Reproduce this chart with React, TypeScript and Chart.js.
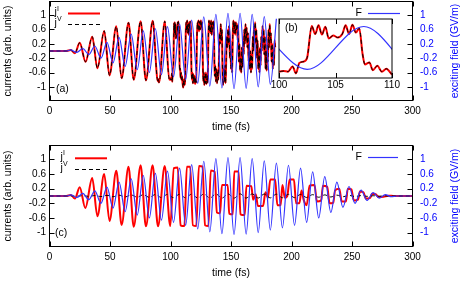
import React, { useEffect, useRef } from "react";
import { Chart, registerables } from "chart.js";
Chart.register(...registerables);

const FONT = '"Liberation Sans", Arial, Helvetica, sans-serif';
const RED = "#ff0000";
const BLUE = "#3333ff";
const BLACK = "#000000";

// ---- axis ticks & texts ----
const xTickValues = [0, 50, 100, 150, 200, 250, 300];
const yTickValues = [-1, -0.6, -0.2, 0.2, 0.6, 1];
const insetTickValues = [100, 105, 110];
const xTitle = "time (fs)";
const yTitle = "currents (arb. units)";
const y2Title = "exciting field (GV/m)";

// ---- exciting field F (extrema), same pulse in (a) and (c) ----
const fT = [0, 14, 17.5, 22.5, 27.5, 32.5, 37.5, 42.5, 47.5, 52.5, 57.5, 62.5, 67.5, 72.5, 77.5, 82.5, 87.5, 92.5, 97.5, 102.5,
  107.5, 112.5, 117.5, 122.5, 127.5, 132.5, 137.5, 142.5, 147.5, 152.5, 157.5, 162.5, 167.5, 172.5, 177.5, 182.5, 187.5,
  192.5, 197.5, 202.5, 207.5, 212.5, 217.5, 222.5, 227.5, 232.5, 237.5, 242.5, 247.5, 252.5, 257.5, 262.5, 267.5, 272.5,
  277.5, 282.5, 287, 300];
const fV = [0, 0, 0.03, -0.04, 0.07, -0.1, 0.14, -0.2, 0.24, -0.33, 0.38, -0.43, 0.47, -0.52, 0.56, -0.6, 0.62, -0.66, 0.68, -0.72,
  0.76, -0.8, 0.86, -0.9, 0.95, -0.98, 1.02, -1.03, 1.05, -1.05, 1.05, -1.04, 1.02, -1.0, 0.96, -0.93, 0.9,
  -0.87, 0.84, -0.8, 0.76, -0.72, 0.66, -0.6, 0.53, -0.45, 0.38, -0.31, 0.26, -0.2, 0.16, -0.12, 0.09, -0.06,
  0.04, -0.02, 0, 0];
const fEndA = 188; // field trace in (a) stops here

// ---- panel (a): current j^I (j^V coincides with it) ----
const jIaT = [0, 14, 17.5, 21, 25, 29.8, 35.3, 39.6, 45.2, 49.6, 55.2, 59.6, 65.3, 69.6, 75.3, 79.7, 85.3, 89.5, 90.0, 90.5,
  95.3, 99.0, 99.5, 100.0, 100.4, 100.8, 101.2, 101.5, 101.8, 102.2, 102.5, 102.9, 103.2, 103.5, 103.8, 104.1, 104.4,
  104.8, 105.2, 105.6, 105.9, 106.2, 106.5, 106.8, 107.1, 107.4, 107.6, 108.0, 108.3, 108.7, 109.1, 109.5, 110.0,
  110.5, 111.0, 111.6, 112.2, 112.6, 113.0, 113.4, 113.8, 114.2, 114.6, 115.0, 115.4, 115.8, 116.3, 116.8, 117.3, 117.7,
  118.1, 118.5, 118.9, 119.3, 119.8, 120.3, 120.8, 121.3, 121.8, 122.3, 122.7, 123.1, 123.6, 124.1, 124.6, 125.1, 125.6,
  126.2, 126.7, 127.1, 127.5, 127.9, 128.3, 128.8, 129.2, 129.7, 130.2, 130.7, 131.3, 131.8, 132.2, 132.7, 133.1, 133.6,
  134.1, 134.6, 135.1, 135.6, 136.1, 136.5, 137.0, 137.5, 138.0, 138.5, 139.0, 139.5, 140.0, 140.5, 141.0, 141.5, 142.0,
  142.5, 143.0, 143.5, 144.0, 144.5, 145.0, 145.5, 146.0, 146.5, 147.0, 147.5, 148.0, 148.5, 149.0, 149.5, 150.0, 150.5,
  151.0, 151.5, 152.0, 152.5, 153.0, 153.5, 154.0, 154.5, 155.0, 155.5, 156.0, 156.5, 157.0, 157.5, 158.0, 158.5, 159.0,
  159.5, 160.0, 160.5, 161.0, 161.5, 162.0, 162.5, 163.0, 163.5, 164.0, 164.5, 165.0, 165.5, 166.0, 166.5, 167.0, 167.5,
  168.0, 168.5, 169.0, 169.5, 170.0, 170.5, 171.0, 171.5, 172.0, 172.5, 173.0, 173.5, 174.0, 174.5, 175.0, 175.5, 176.0,
  176.5, 177.0, 177.5, 178.0, 178.5, 179.0, 179.5, 180.0, 180.5, 181.0, 181.5, 182.0, 182.5, 183.0, 183.5, 184.0, 184.5,
  185.0, 185.5, 186.0, 186.5];
const jIaV = [0, 0, 0.03, -0.06, 0.23, -0.3, 0.4, -0.48, 0.56, -0.68, 0.69, -0.76, 0.79, -0.8, 0.83, -0.82, 0.84, -0.84, -0.78, -0.88,
  0.83, -0.8, -0.75, -0.8, -0.78, -0.8, -0.62, -0.86, -0.5, -0.45, -0.3, 0.78, 0.5, 0.8, 0.48, 0.75, 0.35,
  0.45, 0.38, 0.5, 0.8, 0.5, 0.82, 0.55, 0.7, -0.2, -0.55, -0.48, -0.75, -0.6, -0.8, -0.7, -0.9,
  -1.02, -0.8, -0.95, -0.6, 0.5, 0.8, 0.55, 0.85, 0.5, 0.75, 0.45, 0.8, 0.55, 0.82, 0.6, -0.5, -0.8,
  -0.6, -0.9, -0.65, -0.88, -0.7, -0.92, -0.75, -0.88, 0.3, 0.8, 0.6, 0.85, 0.55, 0.82, 0.6, 0.85, 0.65,
  0.8, -0.3, -0.85, -0.6, -0.95, -0.7, -0.9, -0.6, -0.92, -0.7, -0.88, 0.4, 0.85, 0.55, 0.8, 0.5, 0.85,
  0.45, 0.8, 0.6, 0.82, 0.1, -0.7, -0.4, -0.85, -0.5, -0.9, -0.55, -0.8, -0.3, 0.5, 0.2, 0.75, 0.3,
  0.6, -0.6, -0.95, -0.5, -0.85, -0.4, -0.9, -0.3, 0.4, 0.1, 0.6, 0.2, 0.7, -0.2, 0.3, -0.5, -0.1,
  -0.6, 0.5, 0.85, 0.5, 0.8, 0.45, 0.8, 0.55, 0.75, 0.3, 0.7, -0.3, 0.2, -0.55, -0.2, -0.6, 0.1,
  -0.45, 0.3, -0.1, 0.6, 0.2, 0.75, 0.3, 0.65, 0.1, 0.5, -0.3, 0.2, -0.5, 0.0, -0.6, -0.1, -0.5,
  0.4, 0.0, 0.7, 0.3, 0.8, 0.2, 0.6, -0.2, 0.3, -0.5, -0.1, -0.6, 0.1, -0.4, 0.4, 0.0, 0.7,
  0.2, 0.6, -0.1, 0.4, -0.5, 0.0, -0.55, 0.2, -0.3, 0.6, 0.1, 0.75, 0.3, 0.5, -0.3, 0.2, -0.5,
  0.0, -0.4, 0.3, 0.1];

// ---- panel (c): current j^I ----
const jIcT = [0, 14, 17.5, 21, 25, 29.6, 35.3, 39.6, 45.2, 49.6, 55.2, 59.6, 65.3, 69.6, 75.3, 79.7, 85.2, 89.7, 95.2, 99.8,
  102.8, 106, 108.3, 111.5, 113.5, 116.3, 118.5, 121.3, 123.5, 126.5, 128.5, 131.3, 133.3, 136.5, 138.3, 141, 142.5, 147.3,
  148.5, 151.5, 152.7, 156.3, 157.8, 161.3, 162.8, 166.8, 168.3, 170.5, 172.2, 176.5, 178.5, 180.5, 182.5, 186.5, 188.3,
  191, 192.5, 194.5, 196.5, 198.5, 202, 203.8, 206.5, 208.3, 210, 212.5, 215, 219, 221, 224.5, 226, 229.5, 231.5, 234.5,
  236, 239.5, 241.5, 245, 246.5, 249.5, 251.5, 255, 256.5, 259.5, 261.5, 265, 266.5, 269.5, 272, 276, 280, 285, 300];
const jIcV = [0, 0, 0.03, -0.07, 0.24, -0.33, 0.49, -0.55, 0.6, -0.68, 0.69, -0.79, 0.8, -0.84, 0.84, -0.83, 0.84, -0.83, 0.82, -0.82,
  0.76, 0.78, -0.8, -0.82, 0.8, 0.8, -0.8, -0.82, 0.82, 0.8, -0.8, -0.82, 0.7, 0.66, -0.45, -0.47, 0.3, 0.3,
  -0.48, -0.5, 0.67, 0.67, -0.5, -0.52, 0.28, 0.27, -0.1, 0.05, -0.27, -0.27, 0.1, -0.05, 0.45, 0.45, -0.25,
  -0.25, 0.3, -0.05, 0.0, 0.45, 0.45, -0.2, -0.2, 0.15, -0.1, -0.25, 0.28, 0.3, -0.15, -0.12, 0.28, 0.25, -0.2, -0.18,
  0.15, 0.2, -0.15, -0.15, 0.2, 0.18, -0.12, -0.1, 0.12, 0.1, -0.07, -0.05, 0.06, 0.05, -0.03, -0.02, 0.01, 0, 0];
// ---- panel (c): current j^V (small, on the field's time grid) ----
const jVcV = [0, 0, 0.005, -0.006, 0.008, -0.01, 0.012, -0.015, 0.018, -0.02, 0.024, -0.027, 0.03, -0.033, 0.036, -0.038, 0.04,
  -0.042, 0.044, -0.046, 0.048, -0.05, 0.052, -0.054, 0.055, -0.056, 0.057, -0.058, 0.058, -0.058, 0.058, -0.057, 0.056,
  -0.055, 0.054, -0.052, 0.05, -0.048, 0.046, -0.044, 0.042, -0.04, 0.037, -0.034, 0.03, -0.027, 0.024, -0.02, 0.017,
  -0.014, 0.011, -0.009, 0.007, -0.005, 0.003, -0.002, 0, 0];

function pts(t: number[], v: number[], lo = -Infinity, hi = Infinity) {
  const out: { x: number; y: number }[] = [];
  for (let i = 0; i < t.length; i++) if (t[i] >= lo && t[i] <= hi) out.push({ x: t[i], y: v[i] });
  return out;
}

function setTicks(values: number[]) {
  return (s: any) => {
    s.ticks = values.map((v) => ({ value: v }));
  };
}

function drawJLabel(ctx: CanvasRenderingContext2D, x: number, y: number, sup: string) {
  ctx.fillStyle = BLACK;
  ctx.textAlign = "left";
  ctx.textBaseline = "alphabetic";
  ctx.font = `10.5px ${FONT}`;
  ctx.fillText("j", x, y + 1.5);
  const w = ctx.measureText("j").width;
  ctx.font = `7px ${FONT}`;
  ctx.fillText(sup, x + w + 0.2, y - 3);
}

type Deco = (ctx: CanvasRenderingContext2D, chart: any) => void;

function framePlugin(xt: number[], withY: boolean, fill: boolean, deco: Deco) {
  return {
    id: "frame",
    beforeDraw(chart: any) {
      if (!fill) return;
      const a = chart.chartArea;
      const ctx = chart.ctx;
      ctx.save();
      ctx.fillStyle = "#ffffff";
      ctx.fillRect(a.left, a.top, a.right - a.left, a.bottom - a.top);
      ctx.restore();
    },
    afterDraw(chart: any) {
      const ctx = chart.ctx as CanvasRenderingContext2D;
      const a = chart.chartArea;
      ctx.save();
      ctx.strokeStyle = BLACK;
      ctx.lineWidth = 1;
      ctx.setLineDash([]);
      ctx.strokeRect(a.left, a.top, a.right - a.left, a.bottom - a.top);
      ctx.beginPath();
      const L = 5;
      for (const v of xt) {
        const px = Math.round(chart.scales.x.getPixelForValue(v)) + 0.5;
        ctx.moveTo(px, a.bottom);
        ctx.lineTo(px, a.bottom - L);
        ctx.moveTo(px, a.top);
        ctx.lineTo(px, a.top + L);
      }
      if (withY) {
        for (const v of yTickValues) {
          const py = Math.round(chart.scales.y.getPixelForValue(v)) + 0.5;
          ctx.moveTo(a.left, py);
          ctx.lineTo(a.left + L, py);
          const py2 = Math.round(chart.scales.y2.getPixelForValue(v)) + 0.5;
          ctx.moveTo(a.right, py2);
          ctx.lineTo(a.right - L, py2);
        }
      }
      ctx.stroke();
      deco(ctx, chart);
      ctx.restore();
    },
  };
}

function axisTitles(ctx: CanvasRenderingContext2D, chart: any) {
  const a = chart.chartArea;
  const cy = (a.top + a.bottom) / 2;
  ctx.font = `10.5px ${FONT}`;
  ctx.textAlign = "center";
  ctx.textBaseline = "middle";
  ctx.fillStyle = BLACK;
  ctx.fillText(xTitle, (a.left + a.right) / 2, a.bottom + 26.5);
  ctx.save();
  ctx.translate(8, cy);
  ctx.rotate(-Math.PI / 2);
  ctx.fillText(yTitle, 0, 0);
  ctx.restore();
  ctx.save();
  ctx.translate(455, cy);
  ctx.rotate(-Math.PI / 2);
  ctx.fillStyle = "#0000ff";
  ctx.fillText(y2Title, 0, 0);
  ctx.restore();
}

function mainConfig(datasets: any[], padTop: number, xHeight: number, deco: Deco) {
  const tickFont = { family: FONT, size: 10 };
  return {
    type: "line",
    data: { datasets },
    options: {
      animation: false,
      responsive: false,
      maintainAspectRatio: false,
      layout: { padding: { top: padTop, left: 0, right: 0, bottom: 0 } },
      plugins: { legend: { display: false }, tooltip: { enabled: false } },
      elements: { point: { radius: 0 } },
      scales: {
        x: {
          type: "linear",
          min: 0,
          max: 300,
          afterBuildTicks: setTicks(xTickValues),
          grid: { display: false, drawTicks: false },
          border: { display: false },
          ticks: { font: tickFont, color: BLACK, padding: 5, autoSkip: false, maxRotation: 0, callback: (v: number) => String(v) },
          afterFit: (s: any) => {
            s.height = xHeight;
            s.paddingLeft = 0;
            s.paddingRight = 0;
          },
        },
        y: {
          position: "left",
          min: -1.38,
          max: 1.38,
          afterBuildTicks: setTicks(yTickValues),
          grid: { display: false, drawTicks: false },
          border: { display: false },
          ticks: { font: tickFont, color: BLACK, padding: 3.5, callback: (v: number) => String(v) },
          afterFit: (s: any) => {
            s.width = 49.5;
            s.paddingTop = 0;
            s.paddingBottom = 0;
          },
        },
        y2: {
          position: "right",
          min: -1.38,
          max: 1.38,
          afterBuildTicks: setTicks(yTickValues),
          grid: { display: false, drawTicks: false },
          border: { display: false },
          ticks: { font: tickFont, color: "#0000ff", padding: 7.5, callback: (v: number) => String(v) },
          afterFit: (s: any) => {
            s.width = 50.5;
            s.paddingTop = 0;
            s.paddingBottom = 0;
          },
        },
      },
    },
    plugins: [framePlugin(xTickValues, true, false, deco)],
  };
}

function lineDs(data: any[], color: string, width: number, axis: string, dash: number[] = []) {
  return {
    data,
    borderColor: color,
    borderWidth: width,
    borderDash: dash,
    yAxisID: axis,
    pointRadius: 0,
    fill: false,
    cubicInterpolationMode: "monotone",
  };
}

export default function App() {
  const aRef = useRef<HTMLCanvasElement>(null);
  const bRef = useRef<HTMLCanvasElement>(null);
  const cRef = useRef<HTMLCanvasElement>(null);

  useEffect(() => {
    const charts: Chart[] = [];
    // panel (a)
    const decoA: Deco = (ctx, chart) => {
      axisTitles(ctx, chart);
      drawJLabel(ctx, 54.5, 13.5, "I");
      drawJLabel(ctx, 54.5, 24, "V");
      ctx.lineWidth = 2;
      ctx.strokeStyle = RED;
      ctx.beginPath();
      ctx.moveTo(68, 13.5);
      ctx.lineTo(100, 13.5);
      ctx.stroke();
      ctx.lineWidth = 1;
      ctx.strokeStyle = BLACK;
      ctx.setLineDash([4, 3]);
      ctx.beginPath();
      ctx.moveTo(68, 24.5);
      ctx.lineTo(100, 24.5);
      ctx.stroke();
      ctx.setLineDash([]);
      ctx.strokeStyle = BLUE;
      ctx.lineWidth = 1.2;
      ctx.beginPath();
      ctx.moveTo(368, 13.5);
      ctx.lineTo(400, 13.5);
      ctx.stroke();
      ctx.font = `10.5px ${FONT}`;
      ctx.fillStyle = BLACK;
      ctx.textAlign = "right";
      ctx.textBaseline = "middle";
      ctx.fillText("F", 362, 13.5);
      ctx.textAlign = "left";
      ctx.fillText("(a)", 56, 89);
    };
    charts.push(
      new Chart(
        aRef.current!,
        mainConfig(
          [
            lineDs(pts(fT, fV, -Infinity, fEndA), BLUE, 1.2, "y2"),
            lineDs(pts(jIaT, jIaV), BLACK, 1, "y", [4, 3]),
            lineDs(pts(jIaT, jIaV), RED, 2, "y"),
          ],
          1.5,
          39.5,
          decoA
        ) as any
      )
    );
    // panel (c)
    const decoC: Deco = (ctx, chart) => {
      axisTitles(ctx, chart);
      drawJLabel(ctx, 60.5, 18.3, "I");
      drawJLabel(ctx, 60.5, 29.3, "V");
      ctx.lineWidth = 2;
      ctx.strokeStyle = RED;
      ctx.beginPath();
      ctx.moveTo(75, 18.3);
      ctx.lineTo(107, 18.3);
      ctx.stroke();
      ctx.lineWidth = 1;
      ctx.strokeStyle = BLACK;
      ctx.setLineDash([4, 3]);
      ctx.beginPath();
      ctx.moveTo(75, 29.5);
      ctx.lineTo(107, 29.5);
      ctx.stroke();
      ctx.setLineDash([]);
      ctx.strokeStyle = BLUE;
      ctx.lineWidth = 1.2;
      ctx.beginPath();
      ctx.moveTo(368, 17.5);
      ctx.lineTo(398, 17.5);
      ctx.stroke();
      ctx.font = `10.5px ${FONT}`;
      ctx.fillStyle = BLACK;
      ctx.textAlign = "right";
      ctx.textBaseline = "middle";
      ctx.fillText("F", 362, 17.5);
      ctx.textAlign = "left";
      ctx.fillText("(c)", 55, 93);
    };
    charts.push(
      new Chart(
        cRef.current!,
        mainConfig(
          [
            lineDs(pts(fT, fV), BLUE, 1.2, "y2"),
            lineDs(pts(fT, jVcV), BLACK, 1, "y", [4, 3]),
            lineDs(pts(jIcT, jIcV), RED, 2, "y"),
          ],
          5.5,
          34.5,
          decoC
        ) as any
      )
    );
    // inset (b)
    const decoB: Deco = (ctx) => {
      ctx.font = `10.5px ${FONT}`;
      ctx.fillStyle = BLACK;
      ctx.textAlign = "left";
      ctx.textBaseline = "middle";
      ctx.fillText("(b)", 20, 18.5);
    };
    charts.push(
      new Chart(bRef.current!, {
        type: "line",
        data: {
          datasets: [
            lineDs(pts(fT, fV, 90, 120), BLUE, 1.2, "y"),
            lineDs(pts(jIaT, jIaV, 95, 115), BLACK, 1, "y", [4, 3]),
            lineDs(pts(jIaT, jIaV, 95, 115), RED, 2, "y"),
          ],
        },
        options: {
          animation: false,
          responsive: false,
          maintainAspectRatio: false,
          layout: { padding: { top: 9, left: 14, right: 18, bottom: 0 } },
          plugins: { legend: { display: false }, tooltip: { enabled: false } },
          scales: {
            x: {
              type: "linear",
              min: 100,
              max: 110,
              afterBuildTicks: setTicks(insetTickValues),
              grid: { display: false, drawTicks: false },
              border: { display: false },
              ticks: { font: { family: FONT, size: 10 }, color: BLACK, padding: 1, autoSkip: false, maxRotation: 0, callback: (v: number) => String(v) },
              afterFit: (s: any) => {
                s.height = 17;
                s.paddingLeft = 0;
                s.paddingRight = 0;
              },
            },
            y: { display: false, min: -1.02, max: 1.02 },
          },
        } as any,
        plugins: [framePlugin(insetTickValues, false, true, decoB)],
      } as any)
    );
    return () => charts.forEach((c) => c.destroy());
  }, []);

  return (
    <div style={{ position: "absolute", left: 0, top: 0, width: 463, height: 281, background: "#ffffff", overflow: "hidden" }}>
      <canvas ref={aRef} width={463} height={140} style={{ position: "absolute", left: 0, top: 0, width: 463, height: 140 }} />
      <canvas ref={cRef} width={463} height={141} style={{ position: "absolute", left: 0, top: 140, width: 463, height: 141 }} />
      <canvas ref={bRef} width={145} height={85} style={{ position: "absolute", left: 265, top: 10, width: 145, height: 85 }} />
    </div>
  );
}
